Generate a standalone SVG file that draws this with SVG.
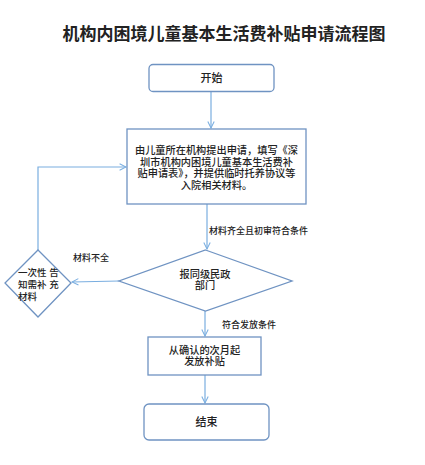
<svg xmlns="http://www.w3.org/2000/svg" width="425" height="465" viewBox="0 0 425 465">
<style>
text{font-family:"Liberation Sans","Noto Sans CJK SC",sans-serif;fill:#222;font-weight:500;}
.t{font-size:17px;font-weight:bold;text-anchor:middle;}
.n{font-size:11px;text-anchor:middle;}
.b{font-size:10.2px;text-anchor:middle;}
.l{font-size:9px;}
.s{font-size:9.5px;}
.box{fill:#fff;stroke:#6f93c2;stroke-width:1.3;}
.c{fill:none;stroke:#7aaee0;stroke-width:1.2;}
</style>
<defs>
<marker id="a" viewBox="0 0 10 10" refX="9" refY="5" markerWidth="8" markerHeight="8" orient="auto" markerUnits="userSpaceOnUse">
<path d="M1,1 L9,5 L1,9" fill="none" stroke="#7aaee0" stroke-width="1.3"/>
</marker>
</defs>
<rect width="425" height="465" fill="#fff"/>
<text class="t" x="224" y="40">机构内困境儿童基本生活费补贴申请流程图</text>
<g id="connectors">
<line class="c" x1="211" y1="92" x2="211" y2="128" marker-end="url(#a)"/>
<line class="c" x1="207" y1="204" x2="207" y2="249" marker-end="url(#a)"/>
<line class="c" x1="119" y1="281" x2="72" y2="282" marker-end="url(#a)"/>
<polyline class="c" points="38,250 38,167 126,167" marker-end="url(#a)"/>
<line class="c" x1="205" y1="311" x2="205" y2="336" marker-end="url(#a)"/>
<line class="c" x1="205" y1="375" x2="205" y2="403" marker-end="url(#a)"/>
<text class="l" x="209" y="234">材料齐全且初审符合条件</text>
<text class="l" x="73" y="261">材料不全</text>
<text class="l" x="222" y="328">符合发放条件</text>
</g>
<g id="start">
<rect class="box" x="149" y="64.5" width="125" height="27" rx="4"/>
<text class="n" x="211.5" y="82">开始</text>
</g>
<g id="apply">
<rect class="box" x="127" y="129" width="179" height="75"/>
<text class="b" x="216.5" y="154">由儿童所在机构提出申请，填写《深</text>
<text class="b" x="216.5" y="165.5">圳市机构内困境儿童基本生活费补</text>
<text class="b" x="216.5" y="177">贴申请表》，并提供临时托养协议等</text>
<text class="b" x="216.5" y="189">入院相关材料。</text>
</g>
<g id="review">
<polygon class="box" points="205.5,250 292,281 205.5,311 119,281"/>
<text class="b" x="205" y="277.5">报同级民政</text>
<text class="b" x="205" y="289">部门</text>
</g>
<g id="notify">
<polygon class="box" points="38,250 71,283 38,317 5,283"/>
<text class="s" x="18" y="276">一次性 告</text>
<text class="s" x="18" y="288">知需补 充</text>
<text class="s" x="18" y="300">材料</text>
</g>
<g id="pay">
<rect class="box" x="148" y="337" width="113" height="38"/>
<text class="b" x="204.5" y="353.5">从确认的次月起</text>
<text class="b" x="204.5" y="365">发放补贴</text>
</g>
<g id="end">
<rect class="box" x="144" y="404" width="125" height="36" rx="5"/>
<text class="n" x="206.5" y="426">结束</text>
</g>
</svg>
